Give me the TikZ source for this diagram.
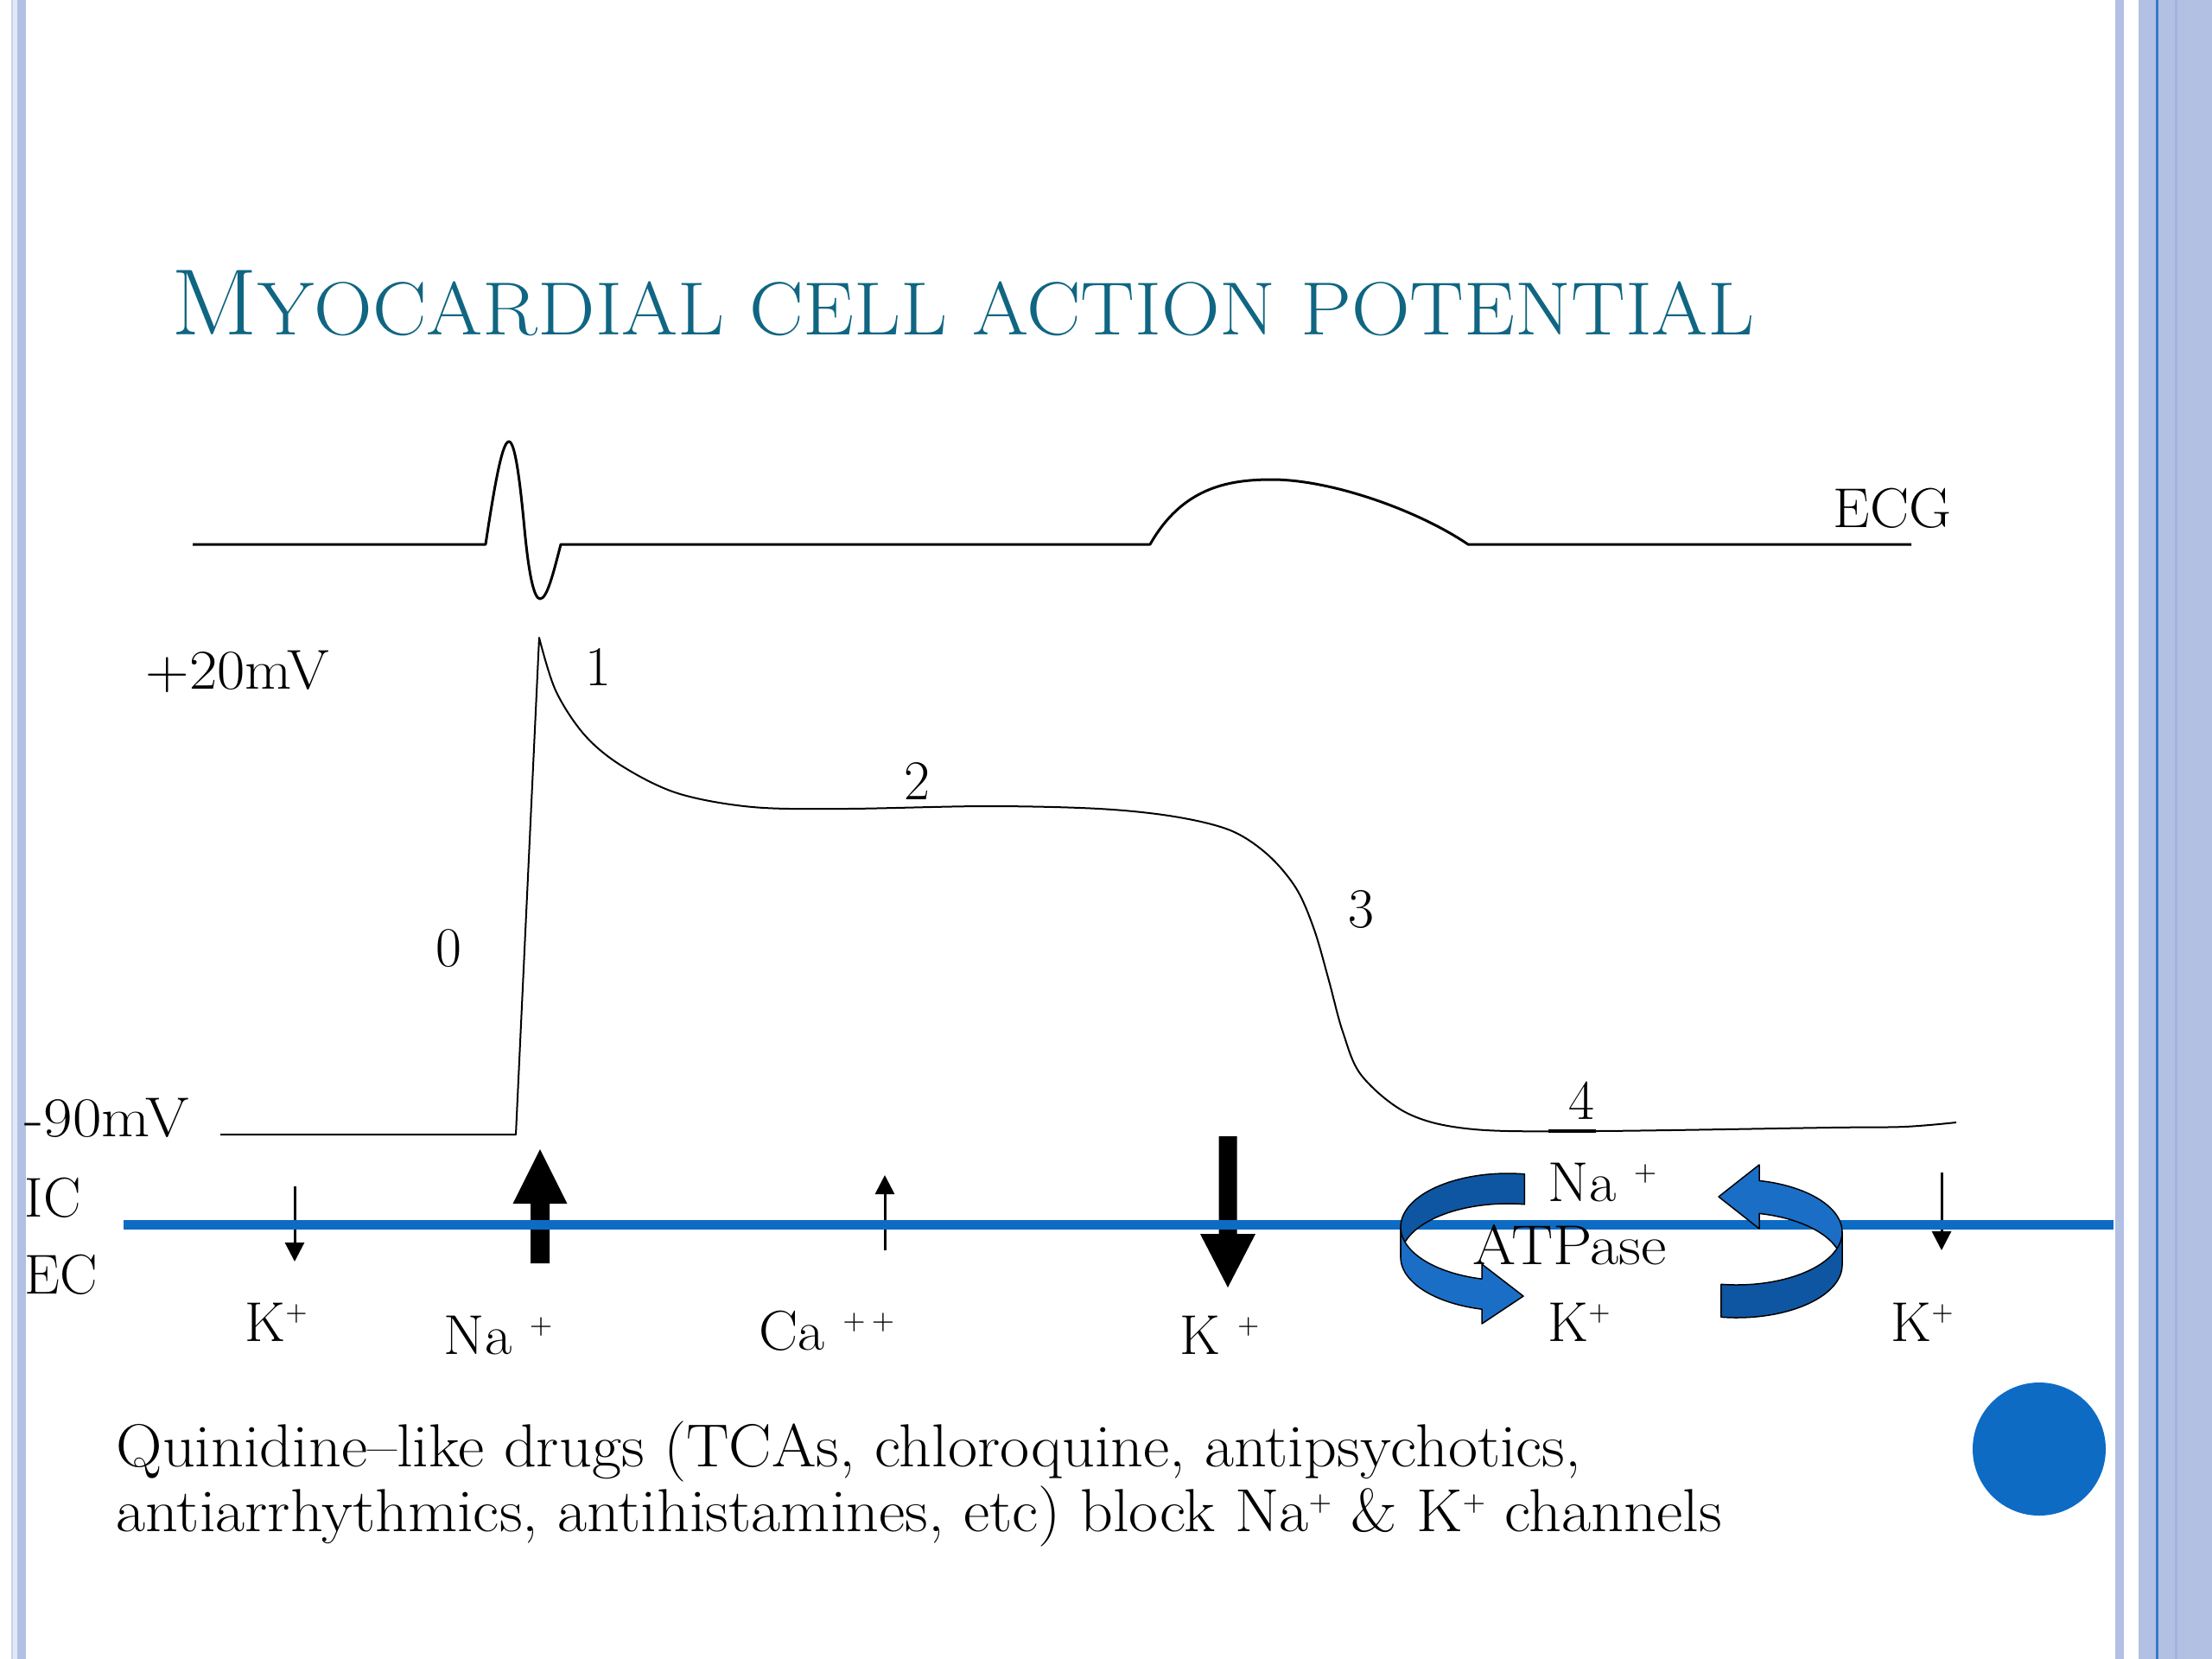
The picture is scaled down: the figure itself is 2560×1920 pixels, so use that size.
\documentclass[tikz,border=0pt]{standalone}
\usepackage{fontspec}
\usepackage{graphicx}
\usetikzlibrary{arrows.meta}
\definecolor{titleteal}{RGB}{16,102,130}
\definecolor{bordblue}{RGB}{178,192,228}
\definecolor{bordlight}{RGB}{200,210,238}
\definecolor{bordpale}{RGB}{226,232,246}
\definecolor{bordline}{RGB}{55,120,200}
\definecolor{borddark}{RGB}{160,178,220}
\definecolor{memblue}{RGB}{14,107,196}
\definecolor{pumplight}{RGB}{26,110,198}
\definecolor{pumpdark}{RGB}{14,86,162}
\newcommand\ionsup[1]{\raisebox{6.8pt}{\fontsize{9}{10}\selectfont #1}}
\newcommand\hsc[2]{\scalebox{#1}[1]{#2}}
\tikzset{
  lbl/.style={font=\fontsize{18.5}{22}\selectfont, inner sep=0pt, anchor=base west},
  note/.style={font=\fontsize{20}{24}\selectfont, inner sep=0pt, anchor=base west},
  ecgline/.style={line width=0.3mm, line join=round},
  apline/.style={line width=0.2mm, line join=round},
  smallarr/.style={line width=0.3mm, -{Triangle[width=2.2mm,length=2.2mm]}},
  pumpband/.style={draw=black, line width=0.15mm, line join=round}
}
\begin{document}
\begin{tikzpicture}[x=0.1mm,y=-0.1mm]
\useasboundingbox (0,0) rectangle (2560,1920);
\fill[white] (0,0) rectangle (2560,1920);
% borders
\fill[bordlight] (12.7,0) rectangle (15,1920);
\fill[bordpale] (15,0) rectangle (19.5,1920);
\fill[bordblue] (19.5,0) rectangle (30,1920);
\fill[bordblue] (2448,0) rectangle (2458,1920);
\fill[bordblue] (2475,0) rectangle (2560,1920);
\fill[bordline] (2495,0) rectangle (2497.5,1920);
\fill[borddark] (2517,0) rectangle (2520,1920);
% title
\node[anchor=base west, inner sep=0pt, text=titleteal] (title) at (198,387)
  {\hsc{1.077}{\fontsize{31}{36}\selectfont M\fontsize{24.8}{30}\selectfont YOCARDIAL CELL ACTION POTENTIAL}};
% ECG
\draw[ecgline] (223,630) -- (562,630)
  .. controls (574,550) and (582,511) .. (589,511)
  .. controls (597,511) and (603,570) .. (607,612)
  .. controls (612,665) and (618,693) .. (625,693)
  .. controls (633,693) and (640,665) .. (649,630)
  -- (1331,630)
  .. controls (1368,565) and (1420,555) .. (1472,555)
  .. controls (1540,555) and (1640,590) .. (1699,630) -- (2212,630);
\node[lbl] (ecg) at (2121,610) {\hsc{1.04}{ECG}};
% action potential
\draw[apline] (255,1313) -- (597,1313) -- plot[smooth,tension=0.55] coordinates {
  (624,738) (643,799) (676,850) (719,886) (784,918) (871,934) (979,936) (1142,933)
  (1272,936) (1359,945) (1424,961) (1467,989) (1500,1028) (1521,1076) (1538,1135)
  (1554,1194) (1576,1245) (1630,1289) (1706,1307) (1847,1309) (2118,1305) (2204,1304) (2264,1299)};
\draw[line width=0.45mm] (1792,1309) -- (1847,1309);
\node[lbl] (p20) at (168,797) {\hsc{1.08}{+20mV}};
\node[lbl] (m90) at (28,1315) {\hsc{1.12}{-90mV}};
\node[lbl, anchor=base] (ph0) at (519,1118) {0};
\node[lbl, anchor=base] (ph1) at (692,793) {1};
\node[lbl, anchor=base] (ph2) at (1061,925) {2};
\node[lbl, anchor=base] (ph3) at (1575,1073) {3};
\node[lbl, anchor=base] (ph4) at (1830,1295) {4};
% big arrows
\fill (614,1462) -- (614,1393) -- (593.5,1393) -- (625,1330) -- (656.5,1393) -- (636,1393) -- (636,1462) -- cycle;
\fill (1410.5,1315) -- (1410.5,1428) -- (1389,1428) -- (1421,1490) -- (1453,1428) -- (1431.5,1428) -- (1431.5,1315) -- cycle;
% small arrows
\draw[smallarr] (341,1373) -- (341,1460);
\draw[smallarr] (1024,1447) -- (1024,1360);
\draw[smallarr] (2247,1357) -- (2247,1447);
% membrane
\draw[memblue, line width=1.1mm] (143,1417) -- (2446,1417);
% pump ribbons
\filldraw[pumpband, fill=pumpdark] plot[domain=81:180,samples=40] ({1745+124*cos(\x)},{1420-62*sin(\x)})
  -- plot[domain=180:81,samples=40] ({1745+124*cos(\x)},{1455-62*sin(\x)}) -- cycle;
\filldraw[pumpband, fill=pumplight] plot[domain=180:256,samples=40] ({1745+124*cos(\x)},{1420-62*sin(\x)})
  -- (1715,1463) -- (1763,1500) -- (1715,1532)
  -- plot[domain=256:180,samples=40] ({1745+124*cos(\x)},{1455-62*sin(\x)}) -- cycle;
\filldraw[pumpband, fill=pumplight] plot[domain=0:77.7,samples=40] ({2010+122*cos(\x)},{1426-61*sin(\x)})
  -- (2036,1348) -- (1989,1385) -- (2036,1422)
  -- plot[domain=77.7:0,samples=40] ({2010+122*cos(\x)},{1464-61*sin(\x)}) -- cycle;
\filldraw[pumpband, fill=pumpdark] plot[domain=261.5:360,samples=40] ({2010+122*cos(\x)},{1426-61*sin(\x)})
  -- plot[domain=360:261.5,samples=40] ({2010+122*cos(\x)},{1464-61*sin(\x)}) -- cycle;
% membrane labels
\node[lbl] (ic) at (28,1408) {IC};
\node[lbl] (ec) at (28,1497) {EC};
\node[lbl] (kl) at (283,1552) {K\ionsup{+}};
\node[lbl] (nal) at (513,1567) {\hsc{1.05}{Na \ionsup{+}}};
\node[lbl] (ca) at (878,1562) {\hsc{1.04}{Ca \ionsup{+\hspace{2pt}+}}};
\node[lbl] (km) at (1365,1567) {K \ionsup{+}};
\node[lbl] (nap) at (1791,1390) {\hsc{1.05}{Na \ionsup{+}}};
\node[lbl] (atp) at (1704,1463) {\hsc{1.11}{ATPase}};
\node[lbl] (kp) at (1791,1552) {K\ionsup{+}};
\node[lbl] (kr) at (2188,1552) {K\ionsup{+}};
% note
\node[note] (q1) at (134,1697)
  {\hsc{1.055}{Quinidine--like drugs (TCAs, chloroquine, antipsychotics,}};
\node[note] (q2) at (134,1772)
  {\hsc{1.055}{antiarrhythmics, antihistamines, etc) block Na\ionsup{+} \& K\ionsup{+} channels}};
% dot
\fill[memblue] (2360,1677) circle[radius=77];
\end{tikzpicture}
\end{document}
